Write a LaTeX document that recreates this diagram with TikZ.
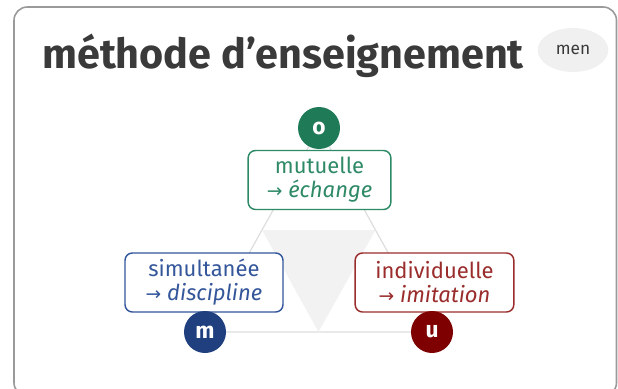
\documentclass[tikz,border=0pt]{standalone}
\usepackage{fontspec}
\usetikzlibrary{shapes.geometric,calc}
\setmainfont{Fira Sans}
\newfontfamily\arrowfont{DejaVu Sans}
\newcommand{\myarrow}{{\arrowfont\fontsize{14}{14}\selectfont →}}
\definecolor{cardline}{HTML}{9A9A9A}
\definecolor{titlec}{HTML}{3A3A3A}
\definecolor{pillc}{HTML}{F0F0F0}
\definecolor{triline}{HTML}{DDDDDD}
\definecolor{trifill}{HTML}{F2F2F2}
\definecolor{greenc}{HTML}{2E8A66}
\definecolor{greendk}{HTML}{1F7A58}
\definecolor{bluec}{HTML}{34569A}
\definecolor{bluedk}{HTML}{1F3F7F}
\definecolor{redc}{HTML}{9A2C2C}
\definecolor{reddk}{HTML}{7F0000}
\tikzset{
  vertex/.style={circle,minimum size=42pt*0.75,inner sep=0pt,text=white,font=\fontsize{17}{17}\selectfont\bfseries},
  labelbox/.style={draw,line width=1.1pt,fill=white,rounded corners=5.5pt,minimum width=#1,minimum height=44.25pt,inner sep=0pt,align=center,font=\fontsize{16.5}{18}\selectfont},
}
\begin{document}
\begin{tikzpicture}[x=0.75pt,y=-0.75pt]
\useasboundingbox (0,0) rectangle (618,389);
\draw[cardline,line width=1.2pt,rounded corners=10pt] (14,7) rectangle (616.5,396);
\node[anchor=base west,text=titlec,font=\fontsize{31}{31}\selectfont\bfseries,inner sep=0pt] (title) at (42,68) {méthode d’enseignement};
\node[ellipse,fill=pillc,minimum width=53pt,minimum height=33pt,inner sep=0pt,font=\fontsize{13}{13}\selectfont,text=titlec] (pill) at (573,50) {men};
% triangle
\coordinate (O) at (319,128);
\coordinate (M) at (205,332);
\coordinate (U) at (432,332);
\draw[triline,line width=0.9pt] (O) -- (M) -- (U) -- cycle;
\fill[trifill] ($(O)!0.5!(M)$) -- ($(O)!0.5!(U)$) -- ($(M)!0.5!(U)$) -- cycle;
% boxes
\node[labelbox=107pt,draw=greenc,text=greenc] (bo) at (319.5,180) {mutuelle\\\myarrow\ \textit{échange}};
\node[labelbox=118.5pt,draw=bluec,text=bluec] (bm) at (204,282.5) {simultanée\\\myarrow\ \textit{discipline}};
\node[labelbox=119pt,draw=redc,text=redc] (bu) at (434.5,282.5) {individuelle\\\myarrow\ \textit{imitation}};
% vertices
\node[vertex,fill=greendk] (vo) at (O) {o};
\node[vertex,fill=bluedk] (vm) at (M) {m};
\node[vertex,fill=reddk] (vu) at (U) {u};
\end{tikzpicture}
\end{document}
